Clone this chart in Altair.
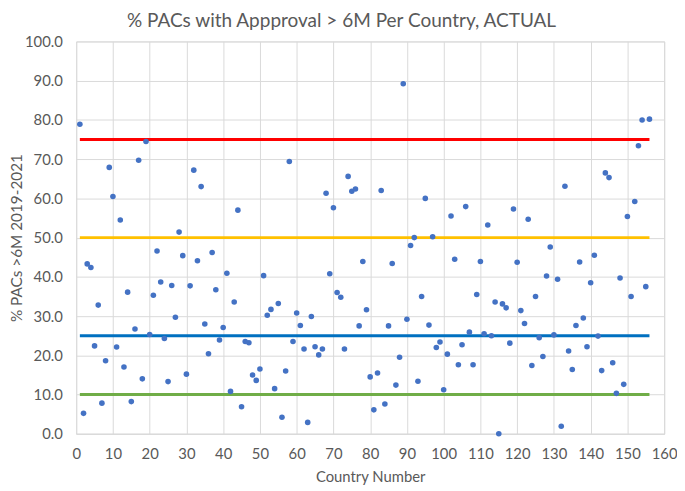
import altair as alt
import pandas as pd

# Country numbers 1..156 and % PACs > 6M
country = list(range(1, 157))
pct = [
    78.9, 5.2, 43.3, 42.4, 22.4, 32.8, 7.8, 18.6, 67.9, 60.5,
    22.1, 54.5, 17.0, 36.1, 8.2, 26.7, 69.7, 14.0, 74.5, 25.3,
    35.3, 46.6, 38.7, 24.3, 13.3, 37.8, 29.7, 51.4, 45.4, 15.2,
    37.7, 67.2, 44.1, 63.0, 28.0, 20.4, 46.2, 36.7, 23.9, 27.1,
    40.9, 10.8, 33.6, 57.0, 6.9, 23.5, 23.2, 15.0, 13.6, 16.5,
    40.3, 30.2, 31.7, 11.5, 33.2, 4.2, 16.0, 69.4, 23.5, 30.8,
    27.6, 21.6, 2.9, 29.9, 22.2, 20.1, 21.6, 61.3, 40.8, 57.6,
    36.0, 34.8, 21.6, 65.6, 61.8, 62.4, 27.5, 43.9, 31.6, 14.5,
    6.1, 15.5, 62.0, 7.6, 27.5, 43.4, 12.4, 19.5, 89.2, 29.2,
    48.0, 50.0, 13.4, 35.0, 60.0, 27.7, 50.2, 22.0, 23.4, 11.2,
    20.3, 55.5, 44.5, 17.6, 22.7, 57.9, 25.9, 17.6, 35.5, 43.9,
    25.5, 53.2, 25.0, 33.6, 0.0, 33.1, 32.1, 23.1, 57.3, 43.7,
    31.4, 28.1, 54.7, 17.4, 35.0, 24.5, 19.7, 40.2, 47.6, 25.2,
    39.4, 1.9, 63.1, 21.1, 16.4, 27.6, 43.8, 29.5, 22.2, 38.5,
    45.5, 24.9, 16.1, 66.5, 65.3, 18.1, 10.3, 39.7, 12.6, 55.4,
    35.0, 59.2, 73.4, 80.0, 37.5, 80.2,
]

# Threshold lines
levels = [75, 50, 25, 10]
level_names = ["75%", "50%", "25%", "10%"]
level_colors = ["#FF0000", "#FFC000", "#0070C0", "#70AD47"]
line_start = [1, 1, 1, 1]
line_end = [156, 156, 156, 156]

pts = pd.DataFrame({"country": country, "pct": pct})
lines = pd.DataFrame({
    "name": level_names, "level": levels,
    "x1": line_start, "x2": line_end,
})

gray = "#595959"
grid = "#D9D9D9"
font = "Lato"

xscale = alt.Scale(domain=[0, 160], nice=False, zero=True)
yscale = alt.Scale(domain=[0, 100], nice=False)

xaxis = alt.Axis(
    title="Country Number", values=list(range(0, 161, 10)), format="d",
    grid=True, gridColor=grid, domainColor=grid, ticks=False,
    labelFlush=False, labelOverlap=False,
    labelColor=gray, labelFont=font, labelFontSize=15, labelPadding=13,
    titleColor=gray, titleFont=font, titleFontSize=15, titleFontWeight="normal",
    titlePadding=8,
)
yaxis = alt.Axis(
    title="% PACs >6M 2019-2021", values=list(range(0, 101, 10)), format=".1f",
    grid=True, gridColor=grid, domain=False, ticks=False,
    labelFlush=False, labelOverlap=False,
    labelColor=gray, labelFont=font, labelFontSize=15, labelPadding=14,
    titleColor=gray, titleFont=font, titleFontSize=15.5, titleFontWeight="normal",
    titlePadding=0,
)

rules = alt.Chart(lines).mark_rule(strokeWidth=3).encode(
    x=alt.X("x1:Q", scale=xscale, axis=xaxis),
    x2="x2:Q",
    y=alt.Y("level:Q", scale=yscale, axis=yaxis),
    color=alt.Color("name:N", scale=alt.Scale(domain=level_names, range=level_colors), legend=None),
)

points = alt.Chart(pts).mark_circle(size=32, opacity=1, color="#4472C4").encode(
    x=alt.X("country:Q", scale=xscale, axis=xaxis),
    y=alt.Y("pct:Q", scale=yscale, axis=yaxis),
)

chart = alt.layer(rules, points).properties(
    width=595, height=397,
    title=alt.TitleParams(
        "% PACs with Appproval > 6M Per Country, ACTUAL",
        font=font, fontSize=19.2, fontWeight="normal", color=gray,
        anchor="middle", offset=3, dx=-29,
    ),
    autosize=alt.AutoSizeParams(type="none"),
    padding={"left": 69, "top": 31, "right": 13, "bottom": 50},
).configure_view(stroke=grid)

chart.save("out.html", embed_options={"renderer": "svg", "actions": False})
